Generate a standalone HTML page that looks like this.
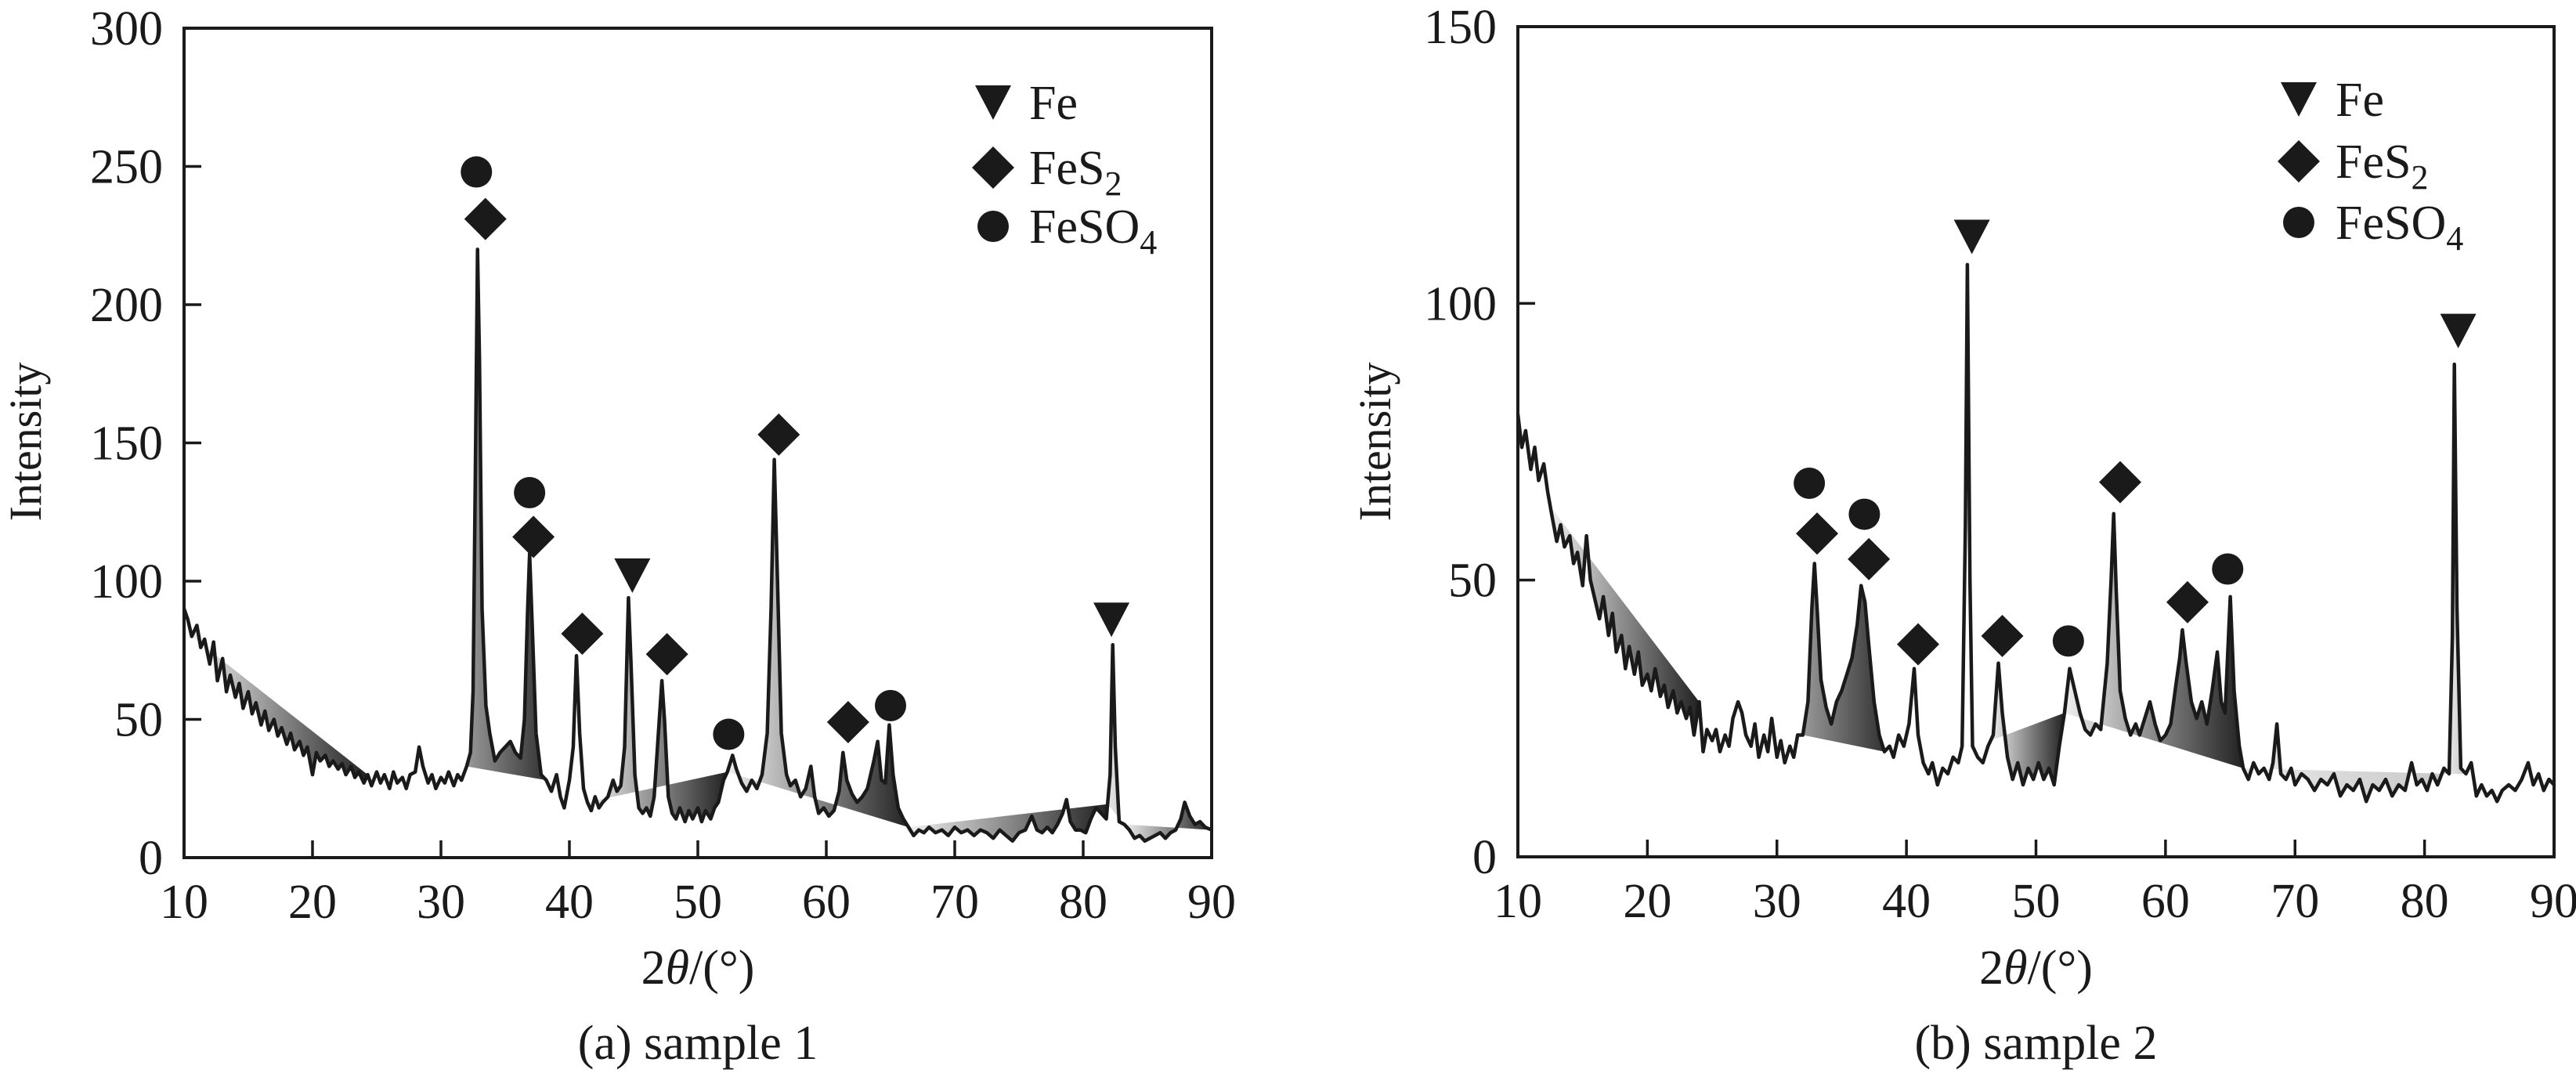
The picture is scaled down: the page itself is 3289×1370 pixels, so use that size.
<!DOCTYPE html>
<html><head><meta charset="utf-8">
<style>
html,body{margin:0;padding:0;background:#fff;}
svg{display:block;}
svg text{font-family:"Liberation Serif","DejaVu Serif",serif;}
</style></head>
<body>
<svg id="fig" width="3289" height="1370" viewBox="0 0 3289 1370" xmlns="http://www.w3.org/2000/svg">
<defs>
<linearGradient id="gLD" x1="0" x2="1" y1="0" y2="0"><stop offset="0" stop-color="#f0f0f0"/><stop offset="1" stop-color="#222"/></linearGradient>
<linearGradient id="gL" x1="0" x2="1" y1="0" y2="0"><stop offset="0" stop-color="#e8e8e8"/><stop offset="1" stop-color="#c8c8c8"/></linearGradient>
<linearGradient id="gM" x1="0" x2="1" y1="0" y2="0"><stop offset="0" stop-color="#999"/><stop offset="1" stop-color="#333"/></linearGradient>
</defs>
</svg>
<script>
// ---------- data: sample 1 ----------
const s1X = [10,10.3,10.6,11,11.3,11.6,12,12.3,12.6,13,13.3,13.6,14,14.3,14.6,15,15.3,15.6,16,16.3,16.6,17,17.3,17.6,18,18.3,18.6,19,19.3,19.6,20,20.3,20.6,21,21.3,21.6,22,22.3,22.6,23,23.3,23.6,24,24.3,24.6,25,25.3,25.6,26,26.3,26.6,27,27.3,27.6,28,28.3,28.6,29,29.3,29.6,30,30.3,30.6,31,31.3,31.6,32,32.3,32.5,32.7,32.85,33,33.2,33.5,33.8,34.2,34.6,35,35.4,35.8,36.2,36.5,36.75,36.9,37.1,37.4,37.8,38.2,38.6,39,39.3,39.6,40,40.3,40.55,40.8,41.1,41.4,41.7,42,42.3,42.6,43,43.4,43.7,44,44.3,44.6,44.8,45.1,45.4,45.7,46,46.3,46.6,47,47.2,47.4,47.7,48,48.3,48.6,49,49.3,49.6,50,50.3,50.6,51,51.3,51.6,52,52.3,52.7,53,53.4,53.8,54.2,54.6,55,55.4,55.7,55.95,56.2,56.5,56.9,57.2,57.6,58,58.4,58.8,59.1,59.4,59.8,60.2,60.6,61,61.3,61.6,62,62.4,62.8,63.2,63.7,64,64.3,64.6,64.9,65.2,65.6,66,66.4,66.8,67.2,67.6,68,68.5,69,69.5,70,70.5,71,71.5,72,72.5,73,73.5,74,74.5,75,75.5,76,76.4,76.8,77.2,77.6,78,78.4,78.7,79,79.4,79.8,80.2,80.6,81,81.4,81.8,82.1,82.3,82.5,82.8,83.2,83.6,84,84.4,84.8,85.2,85.6,86,86.4,86.8,87.2,87.6,87.9,88.3,88.7,89.1,89.5,90];
const s1Y = [90,86,80,84,76,79,70,78,64,72,60,66,58,63,54,60,52,56,48,53,46,50,44,47,41,45,39,42,37,40,30,38,35,37,33,35,32,34,30,33,29,31,27,30,26,31,27,30,25,31,27,29,25,30,31,40,33,27,30,25,29,27,31,26,30,28,33,38,60,150,220,180,90,55,45,35,38,40,42,38,36,50,90,110,85,45,30,28,24,30,22,18,28,40,73,45,25,20,17,22,18,20,22,28,24,26,40,94,70,30,18,16,18,15,22,50,64,50,22,16,14,18,13,17,14,18,13,17,14,18,20,28,31,37,32,27,24,28,25,30,45,90,144,100,45,30,26,28,22,25,33,22,16,18,15,17,24,38,28,23,20,22,25,35,42,28,27,48,30,18,14,11,8,10,9,11,9,10,8,11,9,10,8,10,9,7,10,8,6,9,10,15,10,9,11,9,12,16,21,13,10,10,9,14,18,16,14,30,77,40,13,12,10,7,8,6,7,8,9,7,9,10,14,20,15,12,13,11,10];
const s1FillStart = [10.6,32,41.4,52.3,66.4,81.9,83.2];
const s1FillEnd   = [24.3,38.2,52.3,66.4,81.9,83.2,90];
const s1FillStyle = ['gLD','gM','gLD','gLD','gLD','gL','gLD'];
const s1Yticks = [0,50,100,150,200,250,300];
const s1MarkType = ['c','d','c','d','d','t','d','c','d','d','c','t'];
const s1MarkX = [32.76,33.46,36.9,37.2,41.0,44.9,47.6,52.4,56.3,61.7,65.0,82.2];
const s1MarkY = [248,231,132,116,81,102,73.6,44.6,153,49,55,86];

// ---------- data: sample 2 ----------
const s2X = [10,10.3,10.6,11,11.3,11.6,12,12.3,12.6,13,13.3,13.6,14,14.3,14.6,15,15.3,15.6,16,16.3,16.6,17,17.3,17.6,18,18.3,18.6,19,19.3,19.6,20,20.3,20.6,21,21.3,21.6,22,22.3,22.6,23,23.3,23.6,24,24.3,24.6,25,25.3,25.6,26,26.3,26.6,27,27.3,27.6,28,28.3,28.6,29,29.3,29.6,30,30.3,30.6,31,31.3,31.6,32,32.4,32.7,32.9,33.1,33.4,33.8,34.2,34.6,35,35.4,35.8,36.2,36.5,36.8,37.1,37.5,37.9,38.3,38.7,39,39.4,39.8,40.2,40.6,40.9,41.3,41.7,42,42.4,42.8,43.2,43.6,44,44.3,44.55,44.7,44.9,45.1,45.5,45.9,46.3,46.7,47.1,47.4,47.8,48.2,48.6,49,49.4,49.8,50.2,50.6,51,51.4,51.8,52.2,52.6,53,53.4,53.8,54.2,54.6,55,55.5,55.8,56,56.2,56.5,56.9,57.3,57.7,58,58.4,58.8,59.2,59.6,60,60.4,60.8,61.1,61.3,61.6,62,62.4,62.8,63.2,63.6,64,64.3,64.6,65,65.3,65.7,66,66.4,66.8,67.2,67.6,68,68.3,68.6,68.9,69.3,69.7,70,70.5,71,71.5,72,72.5,73,73.5,74,74.5,75,75.5,76,76.5,77,77.5,78,78.5,79,79.4,79.8,80.2,80.6,81,81.5,81.9,82.15,82.3,82.5,82.8,83.2,83.6,84,84.4,84.8,85.2,85.6,86,86.5,87,87.5,88,88.4,88.8,89.2,89.6,90];
const s2Y = [80,74,77,70,74,68,71,66,62,57,60,56,58,53,55,49,58,50,46,43,47,40,44,37,40,34,38,33,37,31,33,30,34,29,31,27,30,26,28,25,27,22,28,19,23,21,23,19,22,20,25,28,26,22,20,24,18,22,19,25,18,21,17,20,18,22,22,28,45,53,45,32,27,24,28,30,33,36,42,49,46,38,28,22,19,20,18,22,20,24,34,22,17,15,17,13,16,15,18,17,20,60,107,50,20,18,17,20,22,35,26,18,14,17,13,16,14,17,14,16,13,20,26,34,30,26,23,22,24,23,35,50,62,48,30,25,22,24,22,25,28,24,21,22,24,31,36,41,35,28,25,28,24,30,37,28,26,47,30,20,16,14,17,15,16,14,17,24,15,14,16,13,15,14,12,14,13,15,11,13,12,14,10,13,12,14,11,13,12,17,13,14,12,15,13,16,15,40,89,45,16,15,17,11,13,11,12,10,12,13,12,14,17,13,15,12,14,13];
const s2FillStart = [12.5,32,46.5,52.2,66,81.9];
const s2FillEnd   = [24,38.3,52.2,66,81.9,83.2];
const s2FillStyle = ['gLD','gM','gLD','gLD','gL','gL'];
const s2Yticks = [0,50,100,150];
const s2MarkType = ['c','d','c','d','d','t','d','c','d','d','c','t'];
const s2MarkX = [32.5,33.1,36.75,37.1,40.9,45.05,47.4,52.5,56.5,61.7,64.8,82.6];
const s2MarkY = [67.5,58.4,61.9,53.8,38.4,112,39.9,39,67.7,46,52,95];

const xTicks = [10,20,30,40,50,60,70,80,90];

const NS = 'http://www.w3.org/2000/svg';
const svg = document.getElementById('fig');
const FONT = '"Liberation Serif", "DejaVu Serif", serif';
function mk(tag, attrs, parent){
  const e = document.createElementNS(NS, tag);
  for (const k in attrs) e.setAttribute(k, attrs[k]);
  if (tag==='text') e.setAttribute('font-family', FONT);
  (parent||svg).appendChild(e);
  return e;
}
function interp(xs, ys, x){
  for (let i=1;i<xs.length;i++){
    if (xs[i]>=x){ const t=(x-xs[i-1])/(xs[i]-xs[i-1]); return ys[i-1]+t*(ys[i]-ys[i-1]); }
  }
  return ys[ys.length-1];
}

function drawChart(cfg){
  const g = mk('g', {});
  
  
  const L=cfg.left, R=cfg.right, T=cfg.top, B=cfg.bottom;
  const sx = v => L + (v-10)/80*(R-L);
  const sy = v => B - v/cfg.ymax*(B-T);

  for (let k=0;k<cfg.fs.length;k++){
    const a=cfg.fs[k], b=cfg.fe[k];
    const ya=interp(cfg.X,cfg.Y,a), yb=interp(cfg.X,cfg.Y,b);
    let pts=[[sx(a),sy(ya)]];
    for (let i=0;i<cfg.X.length;i++) if (cfg.X[i]>a && cfg.X[i]<b) pts.push([sx(cfg.X[i]),sy(cfg.Y[i])]);
    pts.push([sx(b),sy(yb)]);
    const poly = mk('polygon',{points:pts.map(p=>p.join(',')).join(' '),fill:'url(#'+cfg.fst[k]+')',stroke:'none'},g);
    
    
  }
  const d = cfg.X.map((x,i)=>(i?'L':'M')+sx(x).toFixed(1)+','+sy(cfg.Y[i]).toFixed(1)).join(' ');
  const path = mk('path',{d:d,fill:'none',stroke:'#1a1a1a','stroke-width':4.5,'stroke-linejoin':'round'},g);
  
  

  const frame = mk('rect',{x:L,y:T,width:R-L,height:B-T,fill:'none',stroke:'#1a1a1a','stroke-width':4},g);
  
  

  xTicks.forEach(v=>{
    if (v>10 && v<90){
      const t = mk('line',{x1:sx(v),x2:sx(v),y1:B,y2:B-22,stroke:'#1a1a1a','stroke-width':3.5},g);
      
      
    }
    const lb = mk('text',{x:sx(v),y:B+77,'font-size':62,'text-anchor':'middle',fill:'#1a1a1a'},g);
    lb.textContent = v;
    
    
  });
  cfg.yt.forEach(v=>{
    if (v>0 && v<cfg.ymax){
      const t = mk('line',{x1:L,x2:L+22,y1:sy(v),y2:sy(v),stroke:'#1a1a1a','stroke-width':3.5},g);
      
      
    }
    const lb = mk('text',{x:L-27,y:sy(v)+21,'font-size':62,'text-anchor':'end',fill:'#1a1a1a'},g);
    lb.textContent = v;
    
    
  });
  const yt = mk('text',{x:0,y:0,'font-size':58,'text-anchor':'middle',fill:'#1a1a1a',transform:`translate(${cfg.ytx},564) rotate(-90)`},g);
  yt.textContent='Intensity';
  
  
  const xt = mk('text',{x:(L+R)/2,y:1256,'font-size':62,'text-anchor':'middle',fill:'#1a1a1a'},g);
  xt.innerHTML='2<tspan font-style="italic">θ</tspan>/(°)';
  
  
  const cap = mk('text',{x:(L+R)/2,y:1352,'font-size':62,'text-anchor':'middle',fill:'#1a1a1a'},g);
  cap.textContent = cfg.caption;
  
  

  function marker(type, cx, cy, parent){
    let e;
    if (type==='c') e = mk('circle',{cx:cx,cy:cy,r:20,fill:'#1a1a1a'},parent);
    else if (type==='d') e = mk('polygon',{points:`${cx},${cy-27} ${cx+27},${cy} ${cx},${cy+27} ${cx-27},${cy}`,fill:'#1a1a1a'},parent);
    else e = mk('polygon',{points:`${cx-23},${cy-22} ${cx+23},${cy-22} ${cx},${cy+22}`,fill:'#1a1a1a'},parent);
    return e;
  }
  for (let i=0;i<cfg.mt.length;i++){
    const m = marker(cfg.mt[i], sx(cfg.mx[i]), sy(cfg.my[i]), g);
    
    
  }
  const labels = [['t','Fe',''],['d','FeS','2'],['c','FeSO','4']];
  labels.forEach((lab,i)=>{
    const cy = cfg.legY[i];
    const m = marker(lab[0], cfg.legMX, cy, g);
    
    
    const t = mk('text',{x:cfg.legTX,y:cy+21,'font-size':62,fill:'#1a1a1a'},g);
    t.innerHTML = lab[1] + (lab[2]?`<tspan font-size="44" dy="14">${lab[2]}</tspan>`:'');
    
    
  });
}

drawChart({name:'chart-sample-1',left:235,right:1547,top:36,bottom:1095,ymax:300,
  X:s1X,Y:s1Y,fs:s1FillStart,fe:s1FillEnd,fst:s1FillStyle,yt:s1Yticks,mt:s1MarkType,mx:s1MarkX,my:s1MarkY,
  ytx:52,caption:'(a) sample 1',legMX:1268,legTX:1314,legY:[131,214,289]});
drawChart({name:'chart-sample-2',left:1938,right:3261,top:34,bottom:1094,ymax:150,
  X:s2X,Y:s2Y,fs:s2FillStart,fe:s2FillEnd,fst:s2FillStyle,yt:s2Yticks,mt:s2MarkType,mx:s2MarkX,my:s2MarkY,
  ytx:1775,caption:'(b) sample 2',legMX:2935,legTX:2982,legY:[127,206,284]});
</script>
</body></html>
